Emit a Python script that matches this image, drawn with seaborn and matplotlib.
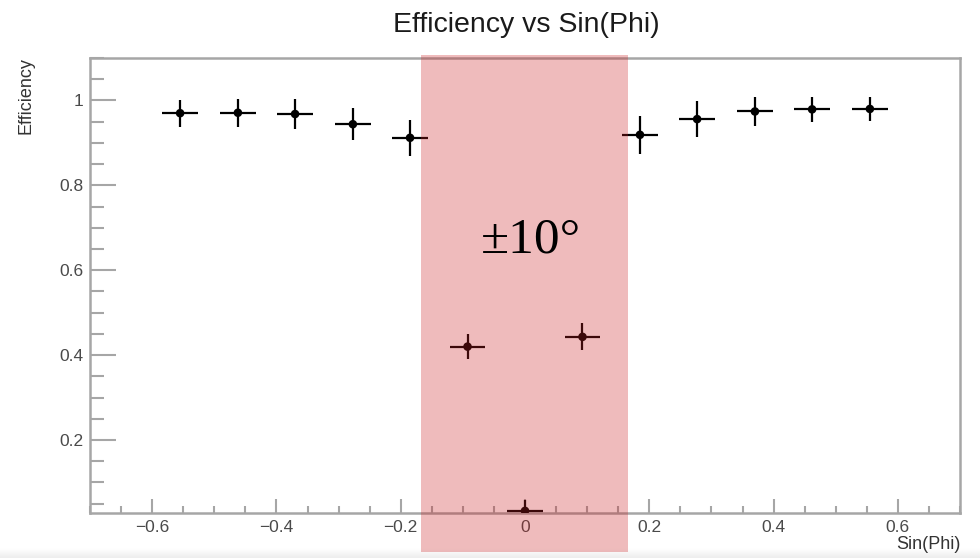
import numpy as np
import pandas as pd
import matplotlib
matplotlib.use("Agg")
import matplotlib.pyplot as plt
import matplotlib.ticker as mticker
from matplotlib.patches import Rectangle
from matplotlib.transforms import blended_transform_factory
import seaborn as sns

# ---- data ----
sin_phi = [-0.555, -0.462, -0.370, -0.277, -0.185, -0.0925, 0.0,
           0.0925, 0.185, 0.277, 0.370, 0.462, 0.555]
efficiency = [0.970, 0.971, 0.968, 0.944, 0.912, 0.420, 0.033,
              0.443, 0.919, 0.956, 0.974, 0.979, 0.980]
eff_err = [0.032, 0.033, 0.036, 0.038, 0.043, 0.029, 0.026,
           0.032, 0.045, 0.042, 0.034, 0.029, 0.029]
x_halfwidth = [0.0285] * len(sin_phi)

cut_region = (-0.168, 0.165)   # +-10 degrees band
cut_label = "±10°"

df = pd.DataFrame({"sin_phi": sin_phi, "eff": efficiency})

sns.set_theme(style="white")
plt.rcParams["font.family"] = ["Liberation Sans", "DejaVu Sans"]

fig = plt.figure(figsize=(9.8, 5.58), dpi=100)

# faint grey shadow along the bottom edge of the screenshot
shadow = fig.add_axes([0, 0, 1, 10 / 558], zorder=-5)
shadow.imshow(np.linspace(1.0, 0.93, 20).reshape(-1, 1), cmap="gray",
              vmin=0, vmax=1, aspect="auto", extent=[0, 1, 0, 1], origin="upper")
shadow.axis("off")

ax = fig.add_axes([90 / 980, 45 / 558, 870 / 980, 455 / 558])

frame_col = "#a6a6a6"
ax.errorbar(sin_phi, efficiency, xerr=x_halfwidth, yerr=eff_err,
            fmt="none", ecolor="black", elinewidth=1.6, capsize=0, zorder=3)
sns.scatterplot(data=df, x="sin_phi", y="eff", ax=ax, color="black",
                s=38, edgecolor="none", zorder=4, legend=False)

ax.set_xlim(-0.7, 0.7)
ax.set_ylim(0.028, 1.1)
ax.set_xlabel("")
ax.set_ylabel("")

ax.xaxis.set_major_locator(mticker.MultipleLocator(0.2))
ax.xaxis.set_minor_locator(mticker.MultipleLocator(0.05))
ax.yaxis.set_major_locator(mticker.MultipleLocator(0.2))
ax.yaxis.set_minor_locator(mticker.MultipleLocator(0.05))
ax.xaxis.set_major_formatter(mticker.FuncFormatter(lambda v, p: f"{v:g}".replace("-", "\u2212")))
ax.yaxis.set_major_formatter(mticker.FuncFormatter(lambda v, p: f"{v:g}"))

for s in ax.spines.values():
    s.set_color(frame_col)
    s.set_linewidth(1.8)

ax.tick_params(axis="both", which="both", direction="in", color=frame_col,
               labelcolor="#4a4a4a", labelsize=12.5, width=1.5)
ax.tick_params(axis="y", which="major", length=19, pad=5)
ax.tick_params(axis="y", which="minor", length=10)
ax.tick_params(axis="x", which="major", length=10, pad=5)
ax.tick_params(axis="x", which="minor", length=5)
ax.tick_params(top=False, right=False, bottom=True, left=True, which="both")

# shaded +-10 degree band, runs past the frame down to the picture edge
trans = blended_transform_factory(ax.transData, fig.transFigure)
band = Rectangle((cut_region[0], 6 / 558), cut_region[1] - cut_region[0],
                 (552 - 55) / 558, transform=trans, facecolor="#ca2023",
                 alpha=0.3, edgecolor="none", clip_on=False, zorder=10)
ax.add_patch(band)
ax.text(0.01, 0.642, cut_label, ha="center", va="baseline", fontsize=37,
        family=["Liberation Serif", "DejaVu Serif"], color="black", zorder=11)

fig.text(526 / 980, (558 - 32) / 558, "Efficiency vs Sin(Phi)", ha="center",
         va="baseline", fontsize=20.5, color="#1a1a1a")
fig.text(26 / 980, (558 - 57) / 558, "Efficiency", rotation=90, ha="center",
         va="top", fontsize=13, color="#333333")
fig.text(961 / 980, (558 - 536) / 558, "Sin(Phi)", ha="right", va="top",
         fontsize=13, color="#333333")

fig.savefig("out.png", dpi=100)
